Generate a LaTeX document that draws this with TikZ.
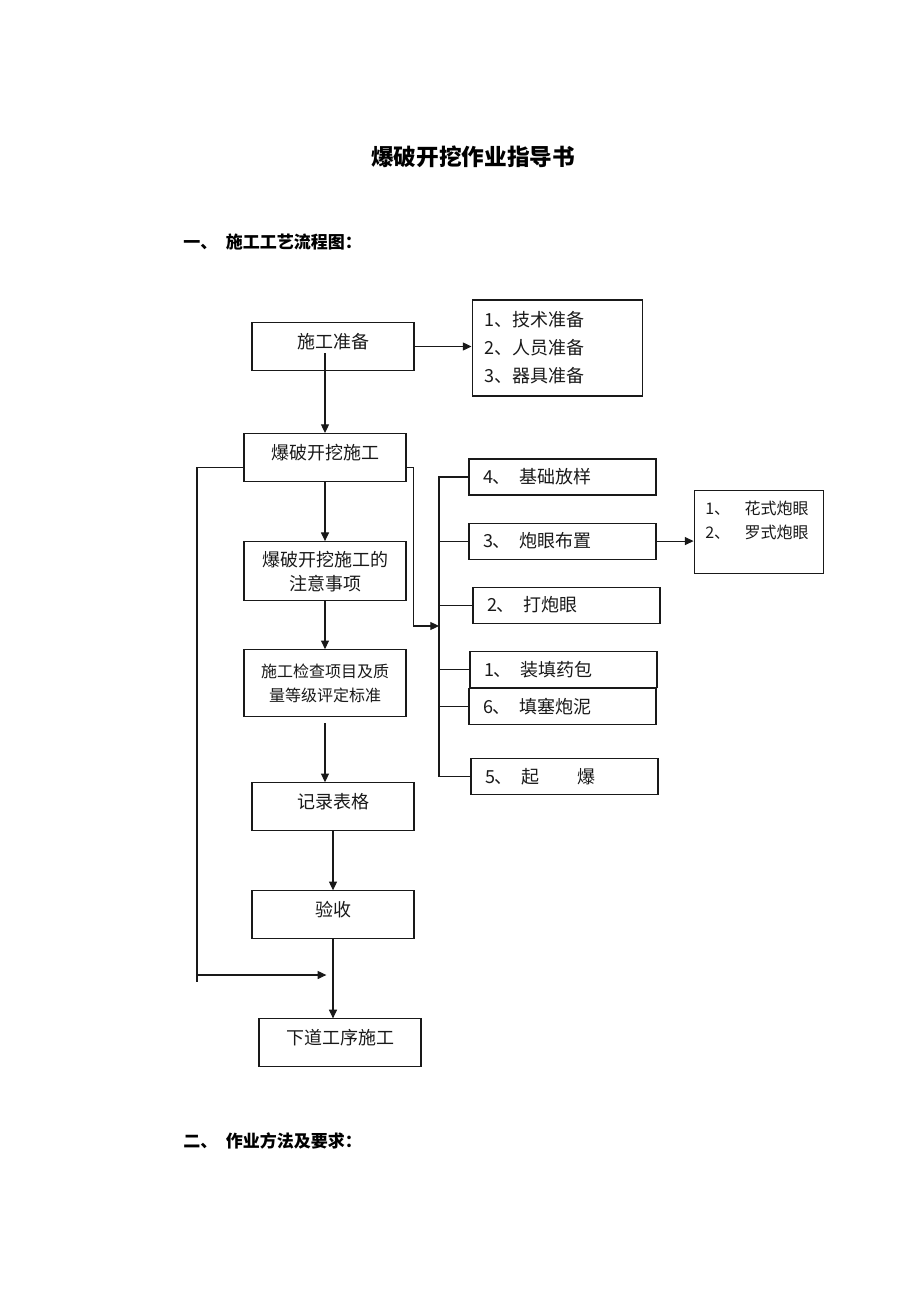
\documentclass[tikz,border=0pt]{standalone}
\usepackage{fontspec}
\setmainfont{Noto Sans CJK SC}
\usepackage{tikz}
\usetikzlibrary{arrows.meta,positioning}
\definecolor{ink}{RGB}{25,25,25}
\tikzstyle{mainbox} = [draw=ink, line width=0.8pt, minimum width=121.5pt, minimum height=36pt, text=ink, align=center, inner sep=2pt, font=\fontsize{13.5}{18}\selectfont]
\tikzstyle{lifted} = [text depth=9pt]
\tikzstyle{stepbox} = [draw=ink, line width=0.8pt, minimum height=27pt, text width=119.25pt, inner xsep=10.5pt, align=left, text=ink, font=\fontsize{13.5}{18}\selectfont]
\tikzstyle{listbox} = [draw=ink, line width=0.8pt, minimum height=72pt, text width=109.5pt, inner xsep=9pt, align=left, text=ink, font=\fontsize{13.5}{21}\selectfont]
\tikzstyle{eyebox} = [draw=ink, line width=0.8pt, inner xsep=8.4pt, inner ysep=8pt, text=ink, font=\fontsize{12}{18}\selectfont]
\tikzstyle{textonly} = [draw=none, fill=none, text=black, inner sep=0pt]
\tikzstyle{link} = [draw=ink, line width=0.8pt]
\tikzstyle{flow} = [draw=ink, line width=0.8pt, >={Triangle[length=6.5pt,width=6pt]}, ->]

\begin{document}
\begin{tikzpicture}[x=0.75pt, y=-0.75pt]
\useasboundingbox (0,0) rectangle (920,1302);

% headings =============================
\node[textonly, font=\bfseries\fontsize{17}{20}\selectfont] (title) at (473,157) {爆破开挖作业指导书};
\node[textonly, anchor=west, font=\bfseries\fontsize{12.75}{16}\selectfont] (head1) at (183,242) {一、\enspace 施工工艺流程图：};
\node[textonly, anchor=west, font=\bfseries\fontsize{12.75}{16}\selectfont] (head2) at (183,1141) {二、\enspace 作业方法及要求：};

% main column
\node[mainbox, lifted] (prep) at (333,346.5) {施工准备};
\node[mainbox, lifted, below=46.5pt of prep, xshift=-6pt] (blast) {爆破开挖施工};
\node[mainbox, minimum height=44.25pt, below=44.25pt of blast] (notes) {爆破开挖施工的\\注意事项};
\node[mainbox, minimum height=50.25pt, font=\fontsize{12}{18}\selectfont, below=36pt of notes] (check) {施工检查项目及质\\量等级评定标准};
\node[mainbox, lifted, below=48.75pt of check, xshift=6pt] (record) {记录表格};
\node[mainbox, lifted, below=44.25pt of record] (accept) {验收};
\node[mainbox, lifted, below=59.25pt of accept, xshift=5.25pt] (next) {下道工序施工};

% preparation list
\node[listbox, right=42.75pt of prep, yshift=-1.1pt] (preplist) {1、技术准备\\2、人员准备\\3、器具准备};

% blasting steps
\node[stepbox] (s4) at (562.5,477) {4、\enspace 基础放样};
\node[stepbox, below=20.25pt of s4] (s3) {3、\enspace 炮眼布置};
\node[stepbox, below=20.25pt of s3, xshift=3pt] (s2) {2、\enspace 打炮眼};
\node[stepbox, below=20.25pt of s2, xshift=-2.25pt] (s1) {1、\enspace 装填药包};
\node[stepbox, below=0pt of s1, xshift=-0.75pt] (s6) {6、\enspace 填塞炮泥};
\node[stepbox, below=24.75pt of s6, xshift=1.5pt] (s5) {5、\enspace 起\hspace{2.1em}爆};

% hole patterns
\node[eyebox, right=27.75pt of s3, yshift=7.1pt] (eye) {\parbox[c][46.25pt][t]{80pt}{1、\hspace*{0.9em}花式炮眼\\2、\hspace*{0.9em}罗式炮眼}};

% helper points
\coordinate (busx) at (439,626);
\coordinate (loopin) at (197,975);
\coordinate (loopend) at (197,982);

%edges
\path[flow] (prep.east) -- (prep.east -| preplist.west);
\path[flow] ([yshift=13.5pt]blast.north |- prep.south) -- (blast.north);
\path[flow] (blast) -- (notes);
\path[flow] (notes) -- (check);
\path[flow] ([yshift=-4.5pt]check.south) -- (check.south |- record.north);
\path[flow] (record) -- (accept);
\path[flow] (accept.south) -- (accept.south |- next.north);
\path[flow] (s3.east) -- (s3.east -| eye.west);

%edges loops
\path[link] ([yshift=-7.5pt]blast.west) -| (loopend);
\path[flow, shorten >=5pt] (loopin) -- (loopin -| accept.south);
\path[flow] ([yshift=-7.5pt]blast.east) -- ++(7,0) |- (busx);

%edges bus
\path[link] (s4.west) -- (s4.west -| busx) -- (s5.west -| busx) -- (s5.west);
\foreach \n in {s3,s2,s1,s6}
  \path[link] (\n.west -| busx) -- (\n.west);

\end{tikzpicture}
\end{document}
